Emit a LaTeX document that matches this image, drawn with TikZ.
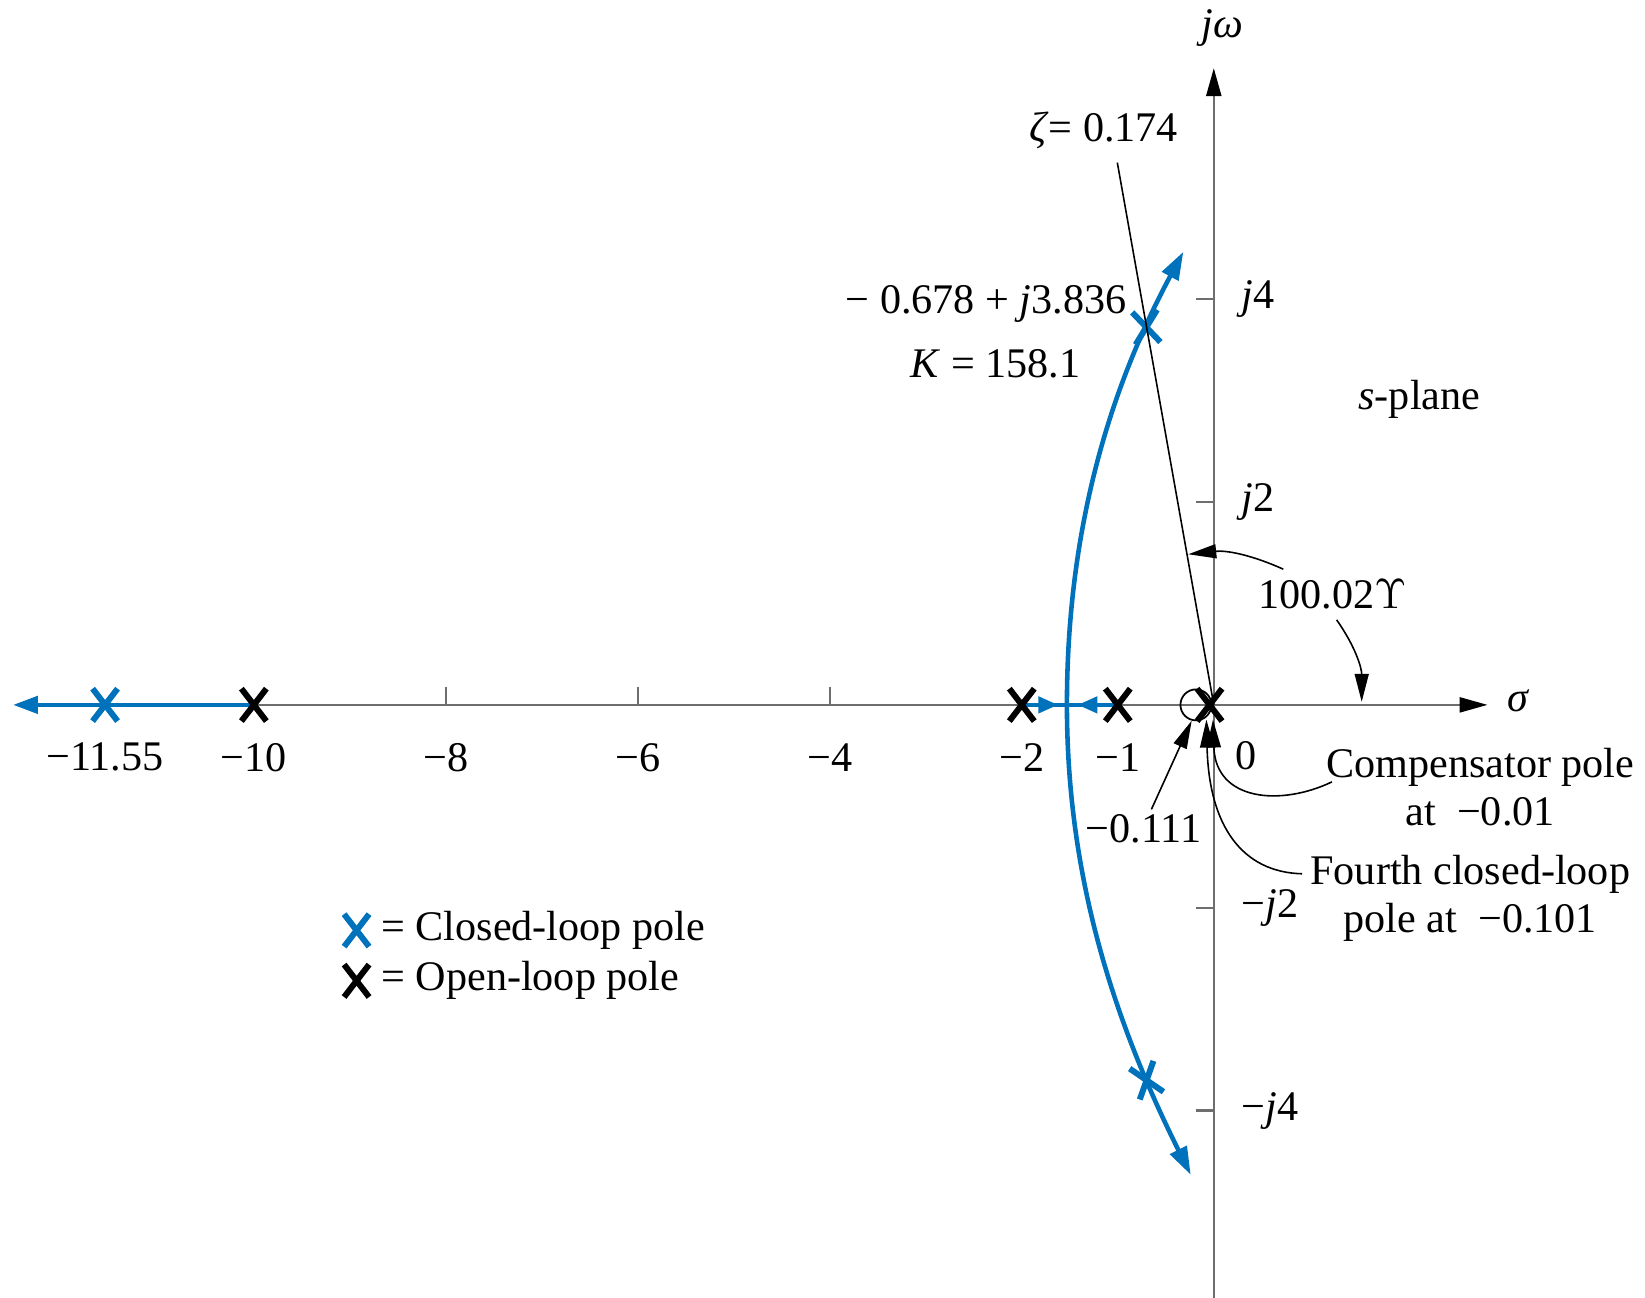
\documentclass[tikz,border=0pt]{standalone}
\usepackage{fontspec}
\setmainfont{Liberation Serif}
\usepackage{tikz}
\usetikzlibrary{positioning,arrows.meta}
\definecolor{locusblue}{RGB}{0,114,188}
\definecolor{axisgray}{RGB}{110,110,110}

\begin{document}
\begin{tikzpicture}[x=0.96cm,y=1.0145cm,font=\fontsize{12}{13.5}\selectfont,
  axisline/.style={axisgray,line width=0.7pt},
  locus/.style={locusblue,line width=1.3pt},
  leader/.style={black,line width=0.45pt,-{Triangle[length=2.8mm,width=1.4mm]}},
  pole/.pic={\draw[line width=1.7pt] (-0.13,-0.16)--(0.13,0.16) (-0.13,0.16)--(0.13,-0.16);}]
\useasboundingbox (-12.645,-5.843) rectangle (4.492,6.949);
\coordinate (O) at (0,0);
\draw[axisline,-{Triangle[length=2.8mm,width=1.5mm,color=black]}] (-12.3,0) -- (2.852,0);
\draw[axisline,-{Triangle[length=2.8mm,width=1.5mm,color=black]}] (0,-5.843) -- (0,6.277);
\node (sig) at (3.18,0.04) {\textit{σ}};
\node (jw) at (0.087,6.67) {\textit{jω}};
\foreach \x in {-8,-6,-4} \draw[axisline] (\x,0) -- (\x,0.176);
\foreach \y in {-4,-2,2,4} \draw[axisline] (-0.186,\y) -- (0,\y);
\foreach \x/\t [count=\i] in {-11.55/−11.55,-10/−10,-8/−8,-6/−6,-4/−4,-2/−2,-1/−1}
  \node (re\i) at (\x,-0.517) {\t};
\node (re0) at (0.34,-0.50) {0};
\foreach \y/\t [count=\i] in {4/\textit{j}4,2/\textit{j}2,-2/−\textit{j}2,-4/−\textit{j}4}
  \node[anchor=west] (im\i) at (0.16,\y) {\t};

% root locus branches
\coordinate (brk) at (-1.53,0);
\coordinate (up) at (-0.317,4.467);
\coordinate (dn) at (-0.24,-4.633);
\draw[locus,-{Triangle[length=2.8mm,width=1.8mm]}] (brk) .. controls (-1.53,1.6) and (-1.15,3.0) .. (up);
\draw[locus,-{Triangle[length=2.8mm,width=1.8mm]}] (brk) .. controls (-1.53,-1.6) and (-1.1,-3.0) .. (dn);
\draw[locus,-{Triangle[length=2.5mm,width=1.7mm]}] (-10,0) -- (-12.51,0);
\draw[locus] (-2,0) -- (-1,0);
\draw[locus,-{Triangle[length=2mm,width=1.6mm]}] (-2,0) -- (-1.62,0);
\draw[locus,-{Triangle[length=2mm,width=1.6mm]}] (-1,0) -- (-1.42,0);

% poles and zero
\foreach \x in {-10,-2,-1,-0.044} \pic at (\x,0) {pole};
\coordinate (cl1) at (-11.55,0);
\coordinate (cl2) at (-0.703,3.723);
\coordinate (cl3) at (-0.70,-3.70);
\pic[locusblue] at (cl1) {pole};
\pic[locusblue,rotate=6] at (cl2) {pole};
\pic[locusblue,rotate=18] at (cl3) {pole};
\node[circle,draw,line width=0.5pt,minimum size=0.31cm,inner sep=0pt] (zc) at (-0.186,0) {};

% damping line and labels
\coordinate (zt) at (-1.005,5.346);
\draw[line width=0.45pt] (O) -- (zt);
\node (zeta) at (-1.148,5.667) {\textit{ζ}= 0.174};
\node[anchor=east] (pt) at (-0.78,3.95) {− 0.678 + \textit{j}3.836};
\node[anchor=east] (gain) at (-1.26,3.361) {\textit{K} = 158.1};
\node (splane) at (2.142,3.009) {\textit{s}-plane};
\node (ang) at (1.235,1.086) {100.02$\Upsilon$};
\node (m111) at (-0.732,-1.22) {−0.111};
\node[align=center] (comp) at (2.776,-0.812) {Compensator pole\\at\ \ −0.01};
\node[align=center] (fourth) at (2.672,-1.908) {Fourth closed-loop\\pole at\ \ −0.101};

% leaders
\coordinate (a1s) at (0.724,1.338);
\coordinate (a1e) at (-0.266,1.485);
\coordinate (a2s) at (1.28,0.838);
\coordinate (a2e) at (1.541,0.03);
\coordinate (a3s) at (-0.65,-1.03);
\coordinate (a4s) at (1.231,-0.759);
\coordinate (a4e) at (-0.009,-0.145);
\coordinate (a5s) at (0.92,-1.665);
\coordinate (a5e) at (-0.077,-0.145);
\draw[leader] (a1s) to[bend right=15] (a1e);
\draw[leader] (a2s) to[out=-55,in=90] (a2e);
\draw[leader] (a3s) -- (zc.255);
\draw[leader] (a4s) .. controls (0.7,-1.0) and (0.02,-0.95) .. (a4e);
\draw[leader] (a5s) .. controls (0.3,-1.65) and (-0.05,-1.2) .. (a5e);

% legend
\pic[locusblue] at (-8.93,-2.223) {pole};
\node[anchor=west] (lg1) at (-8.8,-2.223) {= Closed-loop pole};
\pic at (-8.93,-2.72) {pole};
\node[anchor=west] (lg2) at (-8.8,-2.72) {= Open-loop pole};
\end{tikzpicture}
\end{document}
